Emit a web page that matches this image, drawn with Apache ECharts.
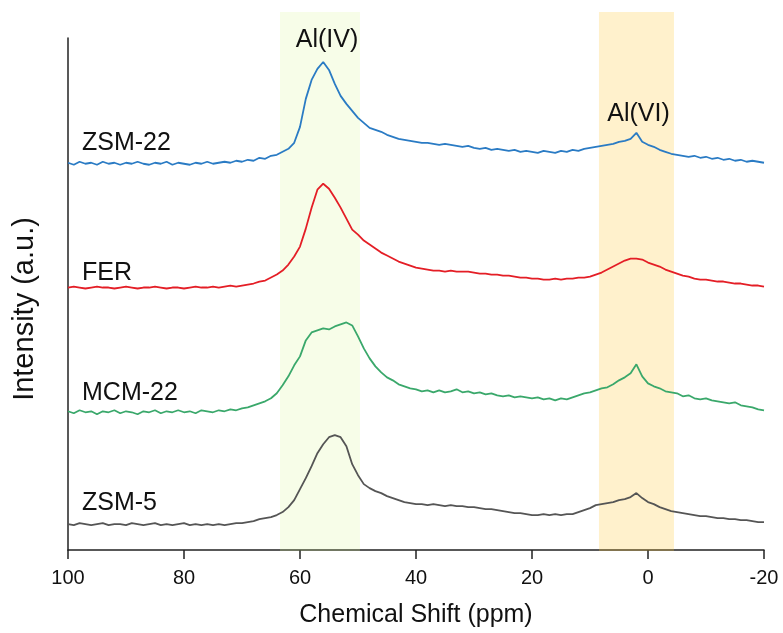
<!DOCTYPE html>
<html>
<head>
<meta charset="utf-8">
<script src="https://cdn.jsdelivr.net/npm/echarts@6/dist/echarts.min.js"></script>
<style>
  html, body { margin: 0; padding: 0; background: #fff; }
  #main { width: 783px; height: 633px; }
</style>
</head>
<body>
<div id="main"></div>
<script>
// chemical shift sampling, 100 -> -20 ppm, 1 ppm step
var shift = [];
for (var p = 100; p >= -20; p--) shift.push(p);

var xTicks = [100, 80, 60, 40, 20, 0, -20];

// intensities (a.u., stacked offsets included)
var zsm22 = [
  388,386,389,387,388,386,389,387,388,386,
  388,387,389,387,386,388,387,389,386,388,
  387,386,388,387,389,387,388,389,388,390,
  389,391,390,393,392,395,396,399,402,408,
  424,452,471,482,489,481,467,455,447,440,
  433,428,423,421,419,416,414,412,411,410,
  409,408,408,407,406,407,406,405,404,405,
  403,402,403,401,402,401,400,401,399,400,
  399,398,400,399,398,400,399,401,400,402,
  403,404,405,406,407,409,410,412,418,409,
  406,404,401,399,397,396,395,394,395,393,
  394,392,393,391,392,390,391,389,390,389,
  388
];
var fer = [
  263,264,263,262,263,264,263,263,262,263,
  264,263,262,263,263,264,263,262,263,263,
  262,263,264,263,263,264,263,264,265,264,
  265,266,267,269,270,273,276,280,286,294,
  304,322,343,361,367,362,353,343,332,321,
  316,310,306,302,298,295,292,289,287,285,
  283,282,281,280,280,279,280,279,279,279,
  278,277,277,276,276,275,275,274,273,273,
  272,272,271,271,272,271,272,272,273,273,
  274,276,278,281,284,287,290,292,292,291,
  288,286,284,281,279,277,275,274,272,271,
  271,270,269,269,268,267,267,266,265,265,
  264
];
var mcm22 = [
  139,137,140,138,139,136,139,138,140,137,
  139,138,136,139,138,140,137,139,138,140,
  138,139,137,140,139,138,140,139,141,140,
  142,143,145,147,149,152,157,165,174,185,
  194,210,218,220,222,221,224,226,228,225,
  214,202,192,184,178,173,170,166,164,162,
  161,159,160,158,160,158,159,161,158,159,
  157,158,156,157,155,154,155,153,154,153,
  152,153,151,152,150,152,151,153,155,157,
  158,160,162,163,166,170,173,177,186,174,
  167,164,162,159,158,157,154,155,152,151,
  152,150,149,148,147,148,145,144,143,141,
  140
];
var zsm5 = [
  26,25,27,26,25,26,27,25,26,26,
  25,27,26,25,26,27,25,26,25,26,
  27,25,26,25,26,25,26,25,26,27,
  27,28,29,31,32,33,35,38,43,50,
  61,72,84,97,106,113,115,113,104,86,
  75,66,62,59,57,54,52,50,48,47,
  46,46,45,46,45,44,45,44,44,43,
  43,42,41,41,40,39,38,37,37,36,
  35,35,36,35,36,35,36,36,38,40,
  42,45,46,47,48,50,51,53,57,52,
  48,46,43,41,39,38,37,36,35,34,
  34,33,32,32,31,31,30,30,29,28,
  28
];

var names = ['ZSM-22', 'FER', 'MCM-22', 'ZSM-5'];
var colors = ['#2a7bc4', '#e41e26', '#3aa86b', '#555555'];
var labelY = [143, 273, 393, 503];

// shaded regions (ppm)
var alIV = [63.45, 49.66];
var alVI = [8.45, -4.48];

var FONT = 'Liberation Sans, Arial, sans-serif';

function pairs(arr) {
  return shift.map(function (x, i) { return [x, arr[i]]; });
}

var chart = echarts.init(document.getElementById('main'));

var xBase = {
  type: 'value', min: -20, max: 100, interval: 20, inverse: true,
  splitLine: { show: false }
};

var series = [zsm22, fer, mcm22, zsm5].map(function (d, i) {
  return {
    name: names[i], type: 'line', xAxisIndex: 1, yAxisIndex: 1,
    data: pairs(d), showSymbol: false, z: 2,
    lineStyle: { color: colors[i], width: 1.8 }
  };
});

series.push({
  type: 'line', xAxisIndex: 0, yAxisIndex: 0, data: [], z: 5,
  markArea: {
    silent: true,
    label: { fontFamily: FONT, fontSize: 25, color: '#111', position: 'insideTop' },
    data: [
      [{ name: 'Al(IV)', xAxis: alIV[0],
         itemStyle: { color: 'rgba(215,245,140,0.2)' },
         label: { distance: 16, offset: [7, 0] } },
       { xAxis: alIV[1] }],
      [{ name: 'Al(VI)', xAxis: alVI[0],
         itemStyle: { color: 'rgba(255,200,50,0.25)' },
         label: { distance: 90, offset: [2, 0] } },
       { xAxis: alVI[1] }]
    ]
  }
});

var option = {
  animation: false,
  backgroundColor: '#fff',
  grid: [
    { left: 68, right: 19, top: 12, bottom: 82 },
    { left: 68, right: 19, top: 38, bottom: 82 }
  ],
  xAxis: [
    Object.assign({ gridIndex: 0, show: false }, xBase),
    Object.assign({
      gridIndex: 1,
      name: 'Chemical Shift (ppm)', nameLocation: 'middle', nameGap: 53,
      nameTextStyle: { fontFamily: FONT, fontSize: 25, color: '#111' },
      axisLine: { onZero: false, lineStyle: { color: '#222', width: 1.5 } },
      axisTick: { inside: false, length: 9, lineStyle: { color: '#222', width: 1.5 } },
      axisLabel: {
        fontFamily: FONT, fontSize: 20, color: '#111', margin: 18,
        formatter: function (v) { return xTicks.indexOf(v) >= 0 ? String(v) : ''; }
      }
    }, xBase)
  ],
  yAxis: [
    { gridIndex: 0, type: 'value', min: 0, max: 1, show: false },
    {
      gridIndex: 1, type: 'value', min: 0, max: 513,
      axisLine: { show: true, onZero: false, lineStyle: { color: '#222', width: 1.5 } },
      axisTick: { show: false }, axisLabel: { show: false },
      splitLine: { show: false }
    }
  ],
  graphic: names.map(function (n, i) {
    return {
      type: 'text', x: 82, y: labelY[i], z: 10,
      style: { text: n, fontFamily: FONT, fontSize: 25, fill: '#111', verticalAlign: 'middle' }
    };
  }).concat([{
    type: 'text', x: 25, y: 309, rotation: Math.PI / 2, z: 10,
    style: { text: 'Intensity (a.u.)', fontFamily: FONT, fontSize: 29, fill: '#111',
             align: 'center', verticalAlign: 'middle' }
  }]),
  series: series
};

chart.setOption(option);
</script>
</body>
</html>
